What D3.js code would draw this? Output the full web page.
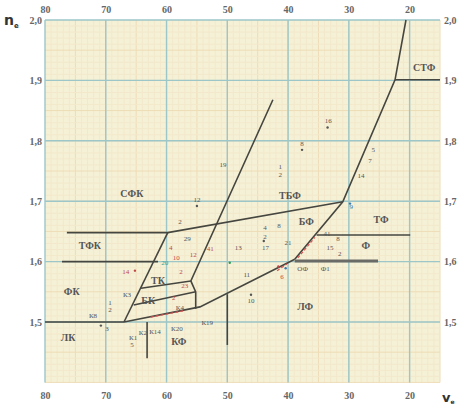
<!DOCTYPE html>
<html>
<head>
<meta charset="utf-8">
<script src="https://cdn.jsdelivr.net/npm/d3@7"></script>
<style>
  body { margin: 0; background: #fff; }
  svg { display: block; font-family: 'Liberation Serif', 'DejaVu Serif', serif; }
</style>
</head>
<body>
<div id="chart"></div>
<script>
// Abbe diagram: n_e against v_e
const vTicks = [80, 70, 60, 50, 40, 30, 20];
const nTicks = [1.5, 1.6, 1.7, 1.8, 1.9, 2.0];

// region boundaries, as [v, n] polylines
const boundaries = [
  [[76.4, 1.648], [59.8, 1.648], [31.0, 1.699]],
  [[77.2, 1.600], [61.4, 1.600]],
  [[80.0, 1.500], [67.0, 1.500]],
  [[67.0, 1.500], [59.8, 1.648]],
  [[42.5, 1.868], [56.0, 1.568], [55.2, 1.550], [55.2, 1.522]],
  [[67.0, 1.500], [54.5, 1.525], [38.9, 1.604]],
  [[38.9, 1.604], [31.0, 1.699], [22.4, 1.901], [20.6, 2.0]],
  [[22.4, 1.901], [15.0, 1.901]],
  [[35.3, 1.644], [19.9, 1.644]],
  [[64.2, 1.556], [56.0, 1.568]],
  [[65.4, 1.528], [55.2, 1.550]],
  [[63.2, 1.500], [63.2, 1.440]],
  [[50.0, 1.546], [50.0, 1.462]]
];
const thickLines = [
  [[38.9, 1.601], [25.2, 1.601]]
];
const redDashes = [
  [[38.4, 1.606], [35.6, 1.640]],
  [[62.6, 1.508], [57.0, 1.519]],
  [[41.8, 1.585], [40.2, 1.596]]
];

// glass family names
const families = [
  ['СФК', 65.7, 1.712], ['ТБФ', 39.7, 1.709], ['БФ', 37.0, 1.666],
  ['ТФ', 24.7, 1.669], ['Ф', 27.2, 1.627], ['ЛФ', 37.2, 1.526],
  ['ТФК', 72.6, 1.627], ['ФК', 75.6, 1.550], ['ЛК', 76.2, 1.475],
  ['ТК', 61.4, 1.568], ['БК', 63.0, 1.536], ['КФ', 58.0, 1.468],
  ['СТФ', 17.6, 1.921]
];

// glass numbers: label, v, n, colour
const glasses = [
  ['К8', 72.1, 1.510, '#555'], ['К3', 66.5, 1.546, '#555'], ['К1', 65.5, 1.475, '#555'],
  ['К2', 63.9, 1.482, '#555'], ['К14', 61.9, 1.485, '#555'], ['К20', 58.3, 1.490, '#555'],
  ['К19', 53.3, 1.500, '#555'], ['5', 65.7, 1.462, '#555'], ['3', 69.8, 1.490, '#555'],
  ['14', 66.7, 1.583, '#c04848'], ['1', 69.3, 1.533, '#555'], ['2', 69.3, 1.520, '#555'],
  ['2', 57.8, 1.666, '#555'], ['29', 56.6, 1.639, '#555'], ['4', 59.3, 1.624, '#c04848'],
  ['10', 58.4, 1.606, '#c04848'], ['12', 55.6, 1.611, '#c04848'], ['41', 52.8, 1.621, '#c04848'],
  ['20', 60.3, 1.599, '#3a9a8a'], ['2', 57.6, 1.583, '#c04848'], ['23', 57.0, 1.561, '#c04848'],
  ['2', 58.8, 1.540, '#c04848'], ['К4', 57.8, 1.524, '#555'], ['13', 48.2, 1.623, '#555'],
  ['4', 43.8, 1.657, '#555'], ['2', 43.8, 1.641, '#555'], ['17', 43.7, 1.624, '#555'],
  ['8', 41.5, 1.660, '#555'], ['21', 40.0, 1.631, '#555'], ['11', 46.8, 1.579, '#555'],
  ['10', 46.1, 1.535, '#555'], ['6', 41.0, 1.576, '#c04848'], ['ОФ', 37.6, 1.589, '#555'],
  ['Ф1', 33.9, 1.589, '#555'], ['41', 33.6, 1.647, '#555'], ['8', 31.8, 1.639, '#555'],
  ['15', 33.1, 1.623, '#555'], ['2', 31.5, 1.613, '#555'], ['9', 29.6, 1.692, '#3a7ab0'],
  ['16', 33.4, 1.833, '#555'], ['8', 37.7, 1.796, '#555'], ['1', 41.3, 1.758, '#555'],
  ['2', 41.3, 1.745, '#555'], ['19', 50.7, 1.760, '#555'], ['12', 55.0, 1.703, '#555'],
  ['5', 26.0, 1.785, '#555'], ['7', 26.5, 1.768, '#555'], ['14', 28.0, 1.743, '#555']
];
const dots = [
  [70.8, 1.494, '#555'], [65.2, 1.585, '#c04848'], [33.5, 1.822, '#555'],
  [37.7, 1.785, '#555'], [55.0, 1.692, '#555'], [46.1, 1.545, '#555'],
  [29.8, 1.696, '#3a7ab0'], [49.6, 1.598, '#2a9a5a'], [40.4, 1.589, '#3a7ab0'],
  [41.6, 1.592, '#c04848'], [44.0, 1.634, '#555']
];

const width = 458, height = 406;
const plotLeft = 45, plotRight = 440, plotTop = 20, plotBottom = 382.4;

const svg = d3.select('#chart').append('svg')
  .attr('width', width)
  .attr('height', height);

const x = d3.scaleLinear().domain([80, 15]).range([plotLeft, plotRight]);
const y = d3.scaleLinear().domain([1.4, 2.0]).range([plotBottom, plotTop]);

svg.append('rect')
  .attr('x', plotLeft).attr('y', plotTop)
  .attr('width', plotRight - plotLeft).attr('height', plotBottom - plotTop)
  .attr('fill', '#f5f1d7');

// fine grid
const minorV = d3.range(15, 80, 1);
const minorN = d3.range(0, 60).map(i => 1.4 + i / 100);
svg.append('g').selectAll('line').data(minorV).enter().append('line')
  .attr('x1', d => x(d)).attr('x2', d => x(d))
  .attr('y1', plotTop).attr('y2', plotBottom)
  .attr('stroke', d => (d % 5 === 0 ? '#eedcb6' : '#f3e8cb'))
  .attr('stroke-width', 1);
svg.append('g').selectAll('line').data(minorN).enter().append('line')
  .attr('x1', plotLeft).attr('x2', plotRight)
  .attr('y1', d => y(d)).attr('y2', d => y(d))
  .attr('stroke', (d, i) => (i % 5 === 0 ? '#eedcb6' : '#f3e8cb'))
  .attr('stroke-width', 1);

// main grid
svg.append('g').selectAll('line').data(vTicks).enter().append('line')
  .attr('x1', d => x(d)).attr('x2', d => x(d))
  .attr('y1', plotTop).attr('y2', plotBottom)
  .attr('stroke', '#9cc6c8').attr('stroke-width', 1.4);
svg.append('g').selectAll('line').data(nTicks).enter().append('line')
  .attr('x1', plotLeft).attr('x2', plotRight)
  .attr('y1', d => y(d)).attr('y2', d => y(d))
  .attr('stroke', '#9cc6c8').attr('stroke-width', 1.4);

// axes
const fmtN = d => d.toFixed(1).replace('.', ',');
function styleAxis(g) {
  g.select('.domain').remove();
  g.selectAll('.tick line').remove();
  g.selectAll('text')
    .attr('font-family', "'Liberation Serif', serif")
    .attr('font-size', 10)
    .attr('font-weight', 'bold')
    .attr('fill', '#666');
}
svg.append('g').attr('transform', `translate(0,${plotTop - 5})`)
  .call(d3.axisTop(x).tickValues(vTicks).tickSize(0).tickPadding(2))
  .call(styleAxis);
svg.append('g').attr('transform', `translate(0,${plotBottom + 6})`)
  .call(d3.axisBottom(x).tickValues(vTicks).tickSize(0).tickPadding(4))
  .call(styleAxis);
svg.append('g').attr('transform', `translate(${plotLeft - 2},0)`)
  .call(d3.axisLeft(y).tickValues(nTicks).tickFormat(fmtN).tickSize(0).tickPadding(1))
  .call(styleAxis);
svg.append('g').attr('transform', `translate(${plotRight + 3},0)`)
  .call(d3.axisRight(y).tickValues(nTicks).tickFormat(fmtN).tickSize(0).tickPadding(1))
  .call(styleAxis);

// axis names
const nName = svg.append('text').attr('x', 4).attr('y', 25)
  .attr('font-family', "'DejaVu Sans', sans-serif").attr('font-weight', 'bold')
  .attr('font-size', 14).attr('fill', '#333');
nName.append('tspan').text('n');
nName.append('tspan').attr('dy', 3).attr('font-size', 7).text('e');
const vName = svg.append('text').attr('x', 442).attr('y', 402)
  .attr('font-family', "'DejaVu Sans', sans-serif").attr('font-weight', 'bold')
  .attr('font-size', 13).attr('fill', '#333');
vName.append('tspan').text('v');
vName.append('tspan').attr('dy', 2).attr('font-size', 6).text('e');

const line = d3.line().x(d => x(d[0])).y(d => y(d[1]));

svg.append('g').selectAll('path').data(boundaries).enter().append('path')
  .attr('d', line).attr('fill', 'none')
  .attr('stroke', '#464640').attr('stroke-width', 1.6);
svg.append('g').selectAll('path').data(thickLines).enter().append('path')
  .attr('d', line).attr('fill', 'none')
  .attr('stroke', '#6a6a66').attr('stroke-width', 3);
svg.append('g').selectAll('path').data(redDashes).enter().append('path')
  .attr('d', line).attr('fill', 'none')
  .attr('stroke', '#e05050').attr('stroke-width', 1.2)
  .attr('stroke-dasharray', '3,2');

svg.append('g').selectAll('circle').data(dots).enter().append('circle')
  .attr('cx', d => x(d[0])).attr('cy', d => y(d[1]))
  .attr('r', 1.2).attr('fill', d => d[2]);

svg.append('g').selectAll('text').data(families).enter().append('text')
  .attr('x', d => x(d[1])).attr('y', d => y(d[2]) + 3.5)
  .attr('text-anchor', 'middle')
  .attr('font-size', 10).attr('font-weight', 'bold')
  .attr('fill', '#555')
  .text(d => d[0]);

svg.append('g').selectAll('text').data(glasses).enter().append('text')
  .attr('x', d => x(d[1])).attr('y', d => y(d[2]) + 2.5)
  .attr('text-anchor', 'middle')
  .attr('font-size', 7)
  .attr('fill', d => d[3])
  .text(d => d[0]);
</script>
</body>
</html>
